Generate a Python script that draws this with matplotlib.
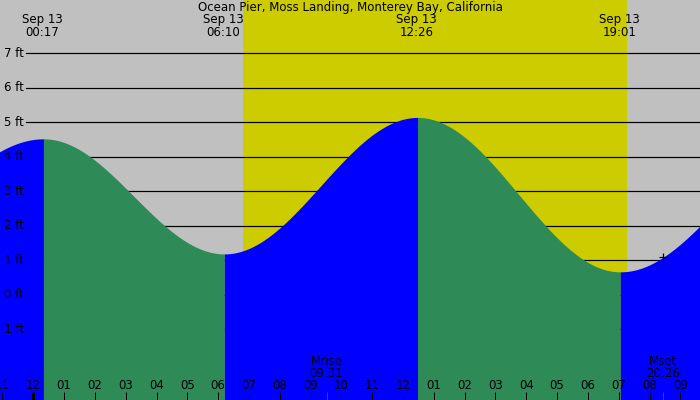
import numpy as np
import matplotlib
matplotlib.use("Agg")
import matplotlib.pyplot as plt
import matplotlib.transforms as mtransforms

# ---------------- data ----------------
title = "Ocean Pier, Moss Landing, Monterey Bay, California"
event_date = "Sep 13"
# tide extremes (hours from midnight Sep 13) and heights (ft)
event_hours = [-5.917, 0.33, 6.2, 12.47, 19.05, 25.517]
event_heights = [1.45, 4.52, 1.18, 5.14, 0.66, 4.50]
event_labels = ["", "00:17", "06:10", "12:26", "19:01", ""]
event_label_hours = [0.0, 0.283, 6.167, 12.433, 19.017, 0.0]
sunrise_h = 6.816
sunset_h = 19.27
moon_names = ["Mrise", "Mset"]
moon_times = ["09:31", "20:26"]
moon_hours = [9.517, 20.433]
hour_ticks = list(range(-1, 22))
hour_labels = ["11", "12", "01", "02", "03", "04", "05", "06", "07", "08", "09", "10",
               "11", "12", "01", "02", "03", "04", "05", "06", "07", "08", "09"]
ft_levels = [-1, 0, 1, 2, 3, 4, 5, 6, 7]
ft_labels = ["-1 ft", "0 ft", "1 ft", "2 ft", "3 ft", "4 ft", "5 ft", "6 ft", "7 ft"]

# ---------------- style ----------------
W, H = 700, 400
XMIN, XMAX = -1.081, 21.639
YMIN, YMAX = -3.058, 8.547
BG = "#c0c0c0"
DAY = "#cccc00"
RISE = "#0000ff"
FALL = "#2e8b57"
FS = 8.5
PX = 0.72  # 1 px in points

fig = plt.figure(figsize=(W / 100, H / 100), dpi=100)
ax = fig.add_axes([0, 0, 1, 1])
ax.set_xlim(XMIN, XMAX)
ax.set_ylim(YMIN, YMAX)
ax.axis("off")
fig.patch.set_facecolor(BG)
ax.set_facecolor(BG)

# daylight band
ax.axvspan(sunrise_h, sunset_h, color=DAY, zorder=1, lw=0)

# grid lines
for lv in ft_levels:
    ax.axhline(lv, xmin=26 / W, xmax=1, color="black", lw=1.2 * PX, zorder=2)


def tide_curve(t0, t1, h0, h1, n=200):
    t = np.linspace(t0, t1, n)
    h = (h0 + h1) / 2 + (h0 - h1) / 2 * np.cos(np.pi * (t - t0) / (t1 - t0))
    return t, h


for i in range(len(event_hours) - 1):
    t, h = tide_curve(event_hours[i], event_hours[i + 1],
                      event_heights[i], event_heights[i + 1])
    col = RISE if event_heights[i + 1] > event_heights[i] else FALL
    ax.fill_between(t, YMIN, h, color=col, lw=0, zorder=3)

# y labels
ytr = mtransforms.blended_transform_factory(ax.transAxes, ax.transData)
for lv, lab in zip(ft_levels, ft_labels):
    ax.text(24 / W, lv, lab, transform=ytr, ha="right", va="center",
            fontsize=FS, color="black", zorder=5)

xtr = mtransforms.blended_transform_factory(ax.transData, ax.transAxes)

# title & event labels
ax.text(0.5, 1 - 8 / H, title, transform=ax.transAxes, ha="center", va="center",
        fontsize=FS, zorder=6)
for hr, lab in zip(event_label_hours, event_labels):
    if not lab:
        continue
    ax.text(hr, 1 - 20 / H, event_date, transform=xtr, ha="center", va="center",
            fontsize=FS, zorder=6)
    ax.text(hr, 1 - 32 / H, lab, transform=xtr, ha="center", va="center",
            fontsize=FS, zorder=6)

# hour ticks & labels
for hr, lab in zip(hour_ticks, hour_labels):
    ax.plot([hr, hr], [0, 8 / H], transform=xtr, color="black",
            lw=(3 if hr == 0 else 1) * PX, zorder=6, solid_capstyle="butt")
    ax.text(hr, 1 - 385.7 / H, lab, transform=xtr, ha="center", va="center",
            fontsize=FS, zorder=6)

# moon events
for nm, tm, hr in zip(moon_names, moon_times, moon_hours):
    ax.plot([hr, hr], [0, 8 / H], transform=xtr, color="red", lw=1 * PX,
            zorder=6, solid_capstyle="butt")
    ax.text(hr, 1 - 361.7 / H, nm, transform=xtr, ha="center", va="center",
            fontsize=FS, zorder=6)
    ax.text(hr, 1 - 373.3 / H, tm, transform=xtr, ha="center", va="center",
            fontsize=FS, zorder=6)

# marker on the curve at moonset
t, h = tide_curve(event_hours[4], event_hours[5], event_heights[4], event_heights[5])
mh = np.interp(moon_hours[1], t, h)
ax.plot([moon_hours[1]], [mh], marker="+", color="black", markersize=9 * PX,
        markeredgewidth=1.2 * PX, zorder=7)

fig.savefig("out.png", dpi=100, facecolor=BG)
